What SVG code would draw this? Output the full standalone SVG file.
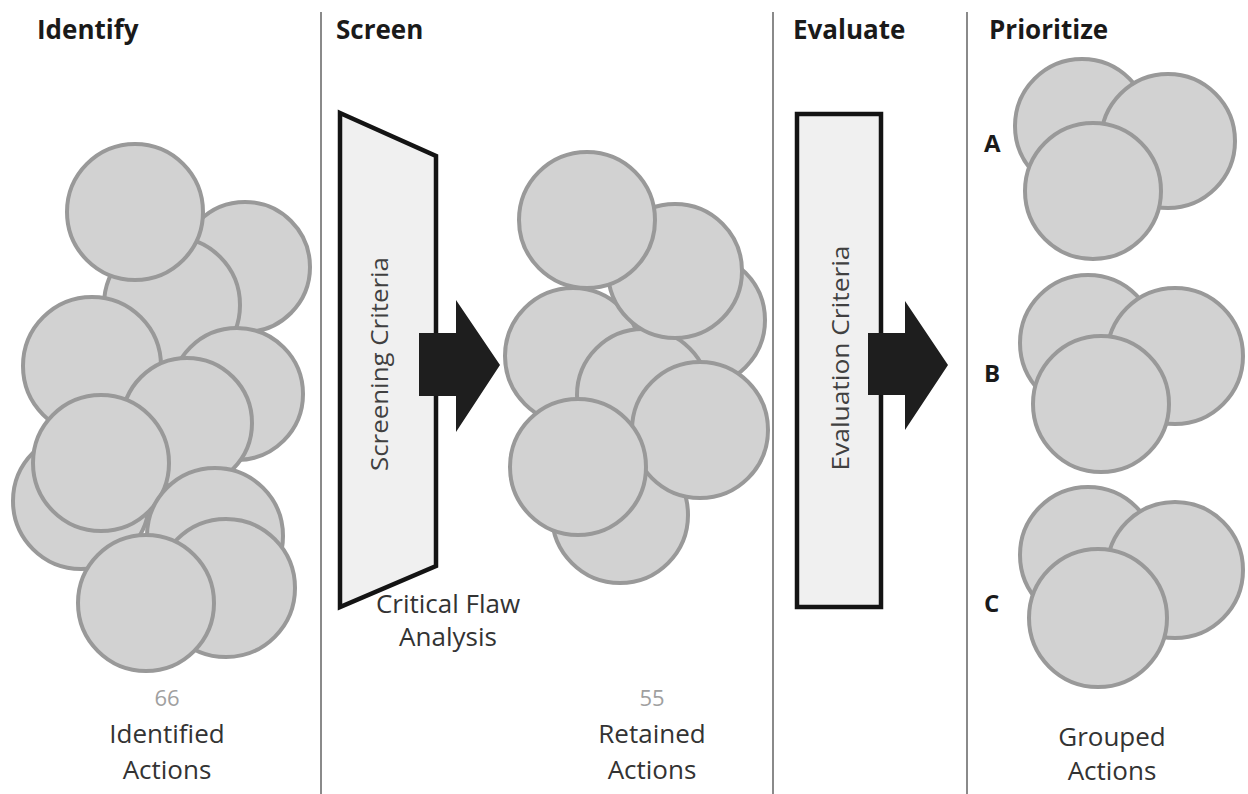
<svg xmlns="http://www.w3.org/2000/svg" width="1248" height="794" viewBox="0 0 1248 794">
<style>
.bg{fill:#ffffff}
.div{stroke:#8a8a8a;stroke-width:2;fill:none}
.hdr{font-family:"Open Sans","Liberation Sans",sans-serif;font-weight:bold;font-size:26px;fill:#1a1a1a}
.lbl{font-family:"Open Sans","Liberation Sans",sans-serif;font-size:26px;fill:#333333;text-anchor:middle}
.num{font-family:"Open Sans","Liberation Sans",sans-serif;font-size:22px;fill:#a0a0a0;text-anchor:middle}
.let{font-family:"Open Sans","Liberation Sans",sans-serif;font-weight:bold;font-size:24px;fill:#1a1a1a}
.crit{font-family:"Open Sans","Liberation Sans",sans-serif;font-size:24px;fill:#404040;text-anchor:middle}
.c{fill:#d2d2d2;stroke:#999999;stroke-width:4}
.box{fill:#f0f0f0;stroke:#141414;stroke-width:4.5;stroke-linejoin:miter}
.arr{fill:#1e1e1e}
</style>
<rect class="bg" x="0" y="0" width="1248" height="794"/>
<g id="dividers">
<line class="div" x1="321" y1="12" x2="321" y2="794"/>
<line class="div" x1="773" y1="12" x2="773" y2="794"/>
<line class="div" x1="967" y1="12" x2="967" y2="794"/>
</g>
<g id="headers">
<text class="hdr" x="37" y="39">Identify</text>
<text class="hdr" x="336" y="39">Screen</text>
<text class="hdr" x="793" y="39">Evaluate</text>
<text class="hdr" x="989" y="39">Prioritize</text>
</g>
<g id="identified-actions">
<circle class="c" cx="245" cy="267" r="65"/>
<circle class="c" cx="172" cy="305" r="68"/>
<circle class="c" cx="135" cy="212" r="68"/>
<circle class="c" cx="92" cy="366" r="69"/>
<circle class="c" cx="237" cy="394" r="66"/>
<circle class="c" cx="187" cy="423" r="65"/>
<circle class="c" cx="81" cy="501" r="68"/>
<circle class="c" cx="101" cy="463" r="68"/>
<circle class="c" cx="215" cy="536" r="68"/>
<circle class="c" cx="226" cy="588" r="69"/>
<circle class="c" cx="146" cy="603" r="68"/>
<text class="num" x="167" y="706">66</text>
<text class="lbl" x="167" y="743">Identified</text>
<text class="lbl" x="167" y="779">Actions</text>
</g>
<g id="screening">
<polygon class="box" points="340,113 436,156 436,566 340,607"/>
<text class="crit" transform="translate(388,364) rotate(-90)" textLength="214" lengthAdjust="spacingAndGlyphs">Screening Criteria</text>
<text class="lbl" x="448" y="613">Critical Flaw</text>
<text class="lbl" x="448" y="646">Analysis</text>
</g>
<g id="retained-actions">
<circle class="c" cx="698" cy="320" r="67"/>
<circle class="c" cx="620" cy="515" r="68"/>
<circle class="c" cx="573" cy="356" r="68"/>
<circle class="c" cx="643" cy="395" r="66"/>
<circle class="c" cx="675" cy="271" r="67"/>
<circle class="c" cx="587" cy="220" r="68"/>
<circle class="c" cx="700" cy="430" r="68"/>
<circle class="c" cx="578" cy="467" r="68"/>
<text class="num" x="652" y="706">55</text>
<text class="lbl" x="652" y="743">Retained</text>
<text class="lbl" x="652" y="779">Actions</text>
</g>
<g id="evaluation">
<rect class="box" x="797" y="114" width="84" height="493"/>
<text class="crit" transform="translate(849,358) rotate(-90)" textLength="225" lengthAdjust="spacingAndGlyphs">Evaluation Criteria</text>
</g>
<g id="group-a">
<circle class="c" cx="1082" cy="126" r="67"/>
<circle class="c" cx="1168" cy="141" r="67"/>
<circle class="c" cx="1093" cy="191" r="68"/>
<text class="let" x="984" y="152">A</text>
</g>
<g id="group-b">
<circle class="c" cx="1088" cy="343" r="68"/>
<circle class="c" cx="1175" cy="356" r="68"/>
<circle class="c" cx="1101" cy="404" r="68"/>
<text class="let" x="984" y="382">B</text>
</g>
<g id="group-c">
<circle class="c" cx="1088" cy="555" r="68"/>
<circle class="c" cx="1175" cy="570" r="68"/>
<circle class="c" cx="1098" cy="618" r="69"/>
<text class="let" x="984" y="612">C</text>
<text class="lbl" x="1112" y="746">Grouped</text>
<text class="lbl" x="1112" y="780">Actions</text>
</g>
<g id="connectors">
<polygon class="arr" points="419,333 456,333 456,300 500,365 456,432 456,396 419,396"/>
<polygon class="arr" points="868,333 905,333 905,301 948,365 905,430 905,395 868,395"/>
</g>
</svg>
